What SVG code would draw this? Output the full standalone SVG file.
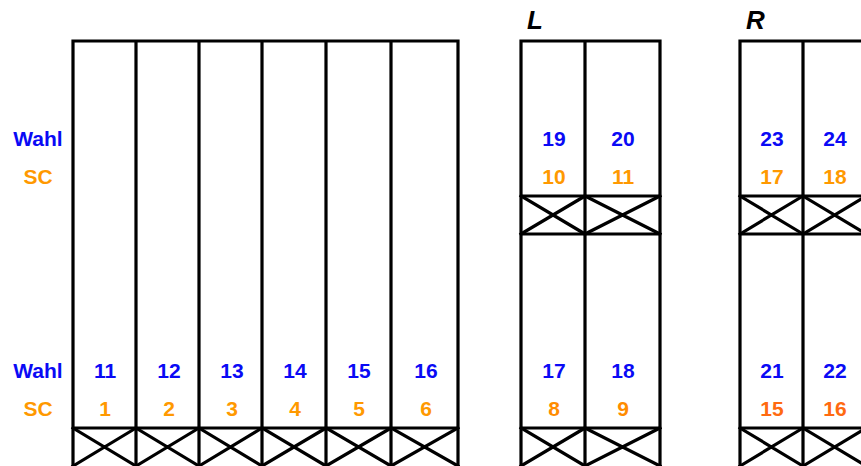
<svg xmlns="http://www.w3.org/2000/svg" width="861" height="466" viewBox="0 0 861 466">
<style>
.ln{stroke:#000;stroke-width:3.2;fill:none;stroke-linecap:square}
.t{font-family:"Liberation Sans",Arial,sans-serif;font-weight:bold;font-size:21px;text-anchor:middle}
.b{fill:#0A0AF5}
.o{fill:#FF9900}
.o2{fill:#FF8C00}
.r{fill:#FF6A10}
.h{font-family:"Liberation Sans",Arial,sans-serif;font-weight:bold;font-style:italic;font-size:26px;fill:#000}
</style>
<g id="labels">
<text class="t b" x="38" y="146">Wahl</text>
<text class="t o" x="38" y="184">SC</text>
<text class="t b" x="38" y="378">Wahl</text>
<text class="t o" x="38" y="416">SC</text>
<text class="h" x="527" y="29">L</text>
<text class="h" x="746" y="29">R</text>
</g>
<g id="rack-main">
<path class="ln" d="M73,467 V41 H458 V467 M136,41 V467 M199,41 V467 M262,41 V467 M326,41 V467 M391,41 V467 M73,428 H458"/>
<path class="ln" d="M73,428 L136,466 M73,466 L136,428 M136,428 L199,466 M136,466 L199,428 M199,428 L262,466 M199,466 L262,428 M262,428 L326,466 M262,466 L326,428 M326,428 L391,466 M326,466 L391,428 M391,428 L458,466 M391,466 L458,428"/>
<text class="t b" x="105" y="378">11</text>
<text class="t b" x="169" y="378">12</text>
<text class="t b" x="232" y="378">13</text>
<text class="t b" x="295" y="378">14</text>
<text class="t b" x="359" y="378">15</text>
<text class="t b" x="426" y="378">16</text>
<text class="t o" x="105" y="416">1</text>
<text class="t o" x="169" y="416">2</text>
<text class="t o" x="232" y="416">3</text>
<text class="t o" x="295" y="416">4</text>
<text class="t o" x="359" y="416">5</text>
<text class="t o" x="426" y="416">6</text>
</g>
<g id="rack-L">
<path class="ln" d="M521,467 V41 H660 V467 M585,41 V467 M521,196 H660 M521,234 H660 M521,428 H660"/>
<path class="ln" d="M521,196 L585,234 M521,234 L585,196 M585,196 L660,234 M585,234 L660,196 M521,428 L585,466 M521,466 L585,428 M585,428 L660,466 M585,466 L660,428"/>
<text class="t b" x="554" y="146">19</text>
<text class="t b" x="623" y="146">20</text>
<text class="t o" x="554" y="184">10</text>
<text class="t o" x="623" y="184">11</text>
<text class="t b" x="554" y="378">17</text>
<text class="t b" x="623" y="378">18</text>
<text class="t o2" x="554" y="416">8</text>
<text class="t o2" x="623" y="416">9</text>
</g>
<g id="rack-R">
<path class="ln" d="M740,467 V41 H870 M803,41 V467 M740,196 H870 M740,234 H870 M740,428 H870"/>
<path class="ln" d="M740,196 L803,234 M740,234 L803,196 M803,196 L866,234 M803,234 L866,196 M740,428 L803,466 M740,466 L803,428 M803,428 L866,466 M803,466 L866,428"/>
<text class="t b" x="772" y="146">23</text>
<text class="t b" x="835" y="146">24</text>
<text class="t o" x="772" y="184">17</text>
<text class="t o" x="835" y="184">18</text>
<text class="t b" x="772" y="378">21</text>
<text class="t b" x="835" y="378">22</text>
<text class="t r" x="772" y="416">15</text>
<text class="t r" x="835" y="416">16</text>
</g>
</svg>
